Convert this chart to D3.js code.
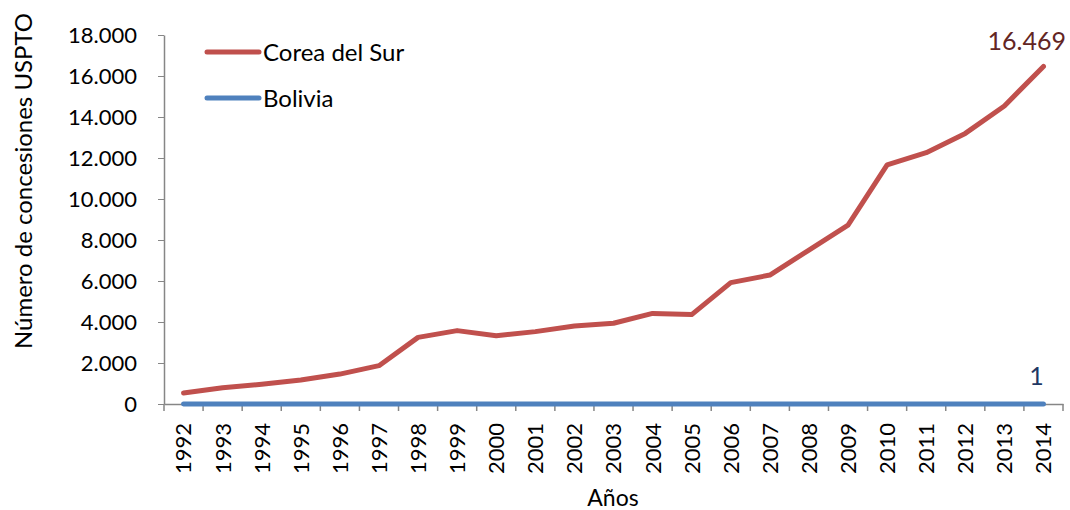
<!DOCTYPE html>
<head>
    <meta charset="utf-8">
    <script src="https://d3js.org/d3.v7.min.js"></script>
    <style>
        body { margin: 0; background: #fff; }
        svg text { font-family: Lato, "Open Sans", sans-serif; }
        .axis path, .axis line { stroke: #868686; }
    </style>
</head>
<body>
    <svg id="chart" width="1070" height="510"></svg>
    <script type="text/javascript">
        var years = ["1992", "1993", "1994", "1995", "1996", "1997", "1998", "1999", "2000", "2001", "2002",
            "2003", "2004", "2005", "2006", "2007", "2008", "2009", "2010", "2011", "2012", "2013", "2014"];
        var corea = [540, 790, 960, 1170, 1460, 1870, 3250, 3580, 3330, 3530, 3800,
            3940, 4420, 4360, 5920, 6290, 7510, 8730, 11660, 12260, 13200, 14540, 16469];
        var bolivia = [1, 0, 1, 0, 2, 1, 3, 2, 1, 0, 1, 0, 1, 0, 1, 2, 1, 3, 0, 2, 1, 1, 1];
        var yTicks = [0, 2000, 4000, 6000, 8000, 10000, 12000, 14000, 16000, 18000];

        var svg = d3.select("#chart");
        var plotLeft = 164, plotRight = 1063, plotTop = 35, plotBottom = 404;

        var x = d3.scaleBand().domain(years).range([plotLeft, plotRight]);
        var y = d3.scaleLinear().domain([0, 18000]).range([plotBottom, plotTop]);
        var fmt = function(d) { return d3.format(",")(d).replace(/,/g, "."); };

        // y axis
        var gy = svg.append("g").attr("class", "axis")
            .attr("transform", "translate(" + plotLeft + ",0)")
            .call(d3.axisLeft(y).tickValues(yTicks).tickSize(6).tickSizeOuter(0).tickFormat(fmt));
        gy.select(".domain").attr("stroke-width", 1.5);
        gy.selectAll("text").attr("font-size", 22).attr("fill", "#000").attr("x", -27);

        // x axis, ticks sit between categories
        var gx = svg.append("g").attr("class", "axis")
            .attr("transform", "translate(0," + plotBottom + ")")
            .call(d3.axisBottom(x).tickSize(0).tickSizeOuter(0));
        gx.select(".domain").attr("stroke-width", 1.5);
        gx.selectAll(".tick text")
            .attr("font-size", 22).attr("fill", "#000")
            .attr("transform", "rotate(-90)")
            .attr("text-anchor", "end")
            .attr("x", -19).attr("y", 0).attr("dy", "0.36em");
        gx.selectAll(".sep").data(d3.range(years.length + 1)).enter()
            .append("line").attr("class", "sep")
            .attr("x1", function(i) { return plotLeft + i * x.step(); })
            .attr("x2", function(i) { return plotLeft + i * x.step(); })
            .attr("y1", 0).attr("y2", 7)
            .attr("stroke", "#868686").attr("stroke-width", 1.5);

        // axis titles
        svg.append("text")
            .attr("transform", "translate(32,181) rotate(-90)")
            .attr("text-anchor", "middle").attr("font-size", 23).attr("fill", "#000")
            .attr("textLength", 336).attr("lengthAdjust", "spacingAndGlyphs")
            .text("Número de concesiones USPTO");
        svg.append("text")
            .attr("x", 613).attr("y", 506)
            .attr("text-anchor", "middle").attr("font-size", 23).attr("fill", "#000")
            .text("Años");

        var line = d3.line()
            .x(function(d, i) { return x(years[i]) + x.bandwidth() / 2; })
            .y(function(d) { return y(d); });

        svg.append("path").datum(bolivia)
            .attr("fill", "none").attr("stroke", "#4F81BD").attr("stroke-width", 5)
            .attr("stroke-linecap", "round").attr("stroke-linejoin", "round")
            .attr("d", line);
        svg.append("path").datum(corea)
            .attr("fill", "none").attr("stroke", "#C0504D").attr("stroke-width", 5)
            .attr("stroke-linecap", "round").attr("stroke-linejoin", "round")
            .attr("d", line);

        // end labels
        var lastX = x(years[years.length - 1]) + x.bandwidth() / 2;
        svg.append("text")
            .attr("x", 1066).attr("y", y(corea[corea.length - 1]) - 16)
            .attr("text-anchor", "end").attr("font-size", 25).attr("fill", "#632523")
            .text(fmt(corea[corea.length - 1]));
        svg.append("text")
            .attr("x", lastX - 7).attr("y", y(bolivia[bolivia.length - 1]) - 19)
            .attr("text-anchor", "middle").attr("font-size", 25).attr("fill", "#1F3864")
            .text(fmt(bolivia[bolivia.length - 1]));

        // legend
        var legend = [{ name: "Corea del Sur", color: "#C0504D" }, { name: "Bolivia", color: "#4F81BD" }];
        var lg = svg.selectAll(".leg").data(legend).enter().append("g")
            .attr("transform", function(d, i) { return "translate(0," + (52 + i * 46) + ")"; });
        lg.append("line").attr("x1", 207).attr("x2", 259).attr("y1", 0).attr("y2", 0)
            .attr("stroke", function(d) { return d.color; }).attr("stroke-width", 5)
            .attr("stroke-linecap", "round");
        lg.append("text").attr("x", 263).attr("y", 0).attr("dy", "0.36em")
            .attr("font-size", 24).attr("fill", "#000")
            .text(function(d) { return d.name; });
    </script>
</body>
